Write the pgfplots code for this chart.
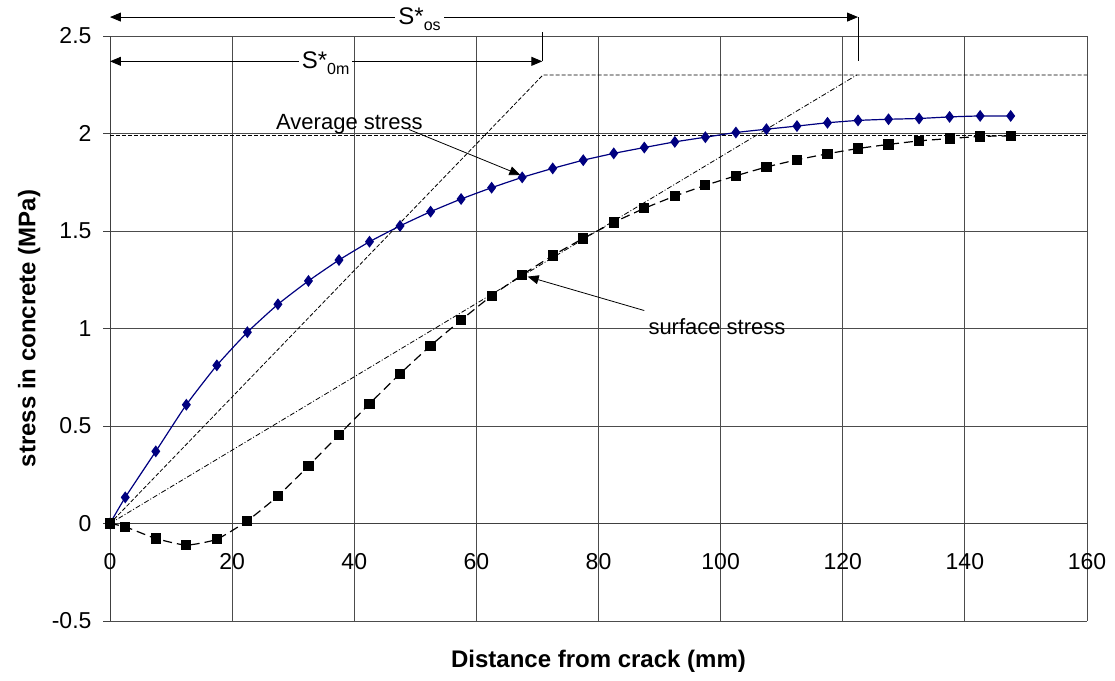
\documentclass[border=0pt]{standalone}
\usepackage{pgfplots}
\pgfplotsset{compat=1.18}
\usepackage{fontspec}
\setmainfont{Liberation Sans}
\usetikzlibrary{arrows.meta,calc}

\pgfplotstableread{
x     avg    surf
0     0      0
2.5   0.134  -0.017
7.5   0.370  -0.077
12.5  0.609  -0.111
17.5  0.811  -0.081
22.5  0.981  0.014
27.5  1.124  0.141
32.5  1.244  0.295
37.5  1.351  0.455
42.5  1.445  0.614
47.5  1.526  0.768
52.5  1.599  0.912
57.5  1.664  1.043
62.5  1.722  1.168
67.5  1.775  1.275
72.5  1.821  1.374
77.5  1.863  1.462
82.5  1.898  1.544
87.5  1.928  1.616
92.5  1.957  1.679
97.5  1.981  1.734
102.5 2.005  1.783
107.5 2.022  1.828
112.5 2.038  1.865
117.5 2.055  1.896
122.5 2.067  1.923
127.5 2.073  1.944
132.5 2.077  1.962
137.5 2.085  1.974
142.5 2.090  1.985
147.5 2.090  1.988
}\stress

\begin{document}
\begin{tikzpicture}
\begin{axis}[
    width=977pt, height=585pt, scale only axis,
    xmin=0, xmax=160, ymin=-0.5, ymax=2.5,
    axis x line=middle, axis y line=left,
    hide obscured x ticks=false, hide obscured y ticks=false,
    axis line style={-, black!75, line width=0.9pt},
    xtick={0,20,...,160}, xticklabels={0,20,40,60,80,100,120,140,160},
    ytick={-0.5,0,0.5,1,1.5,2,2.5},
    yticklabels={-0.5,0,0.5,1,1.5,2,2.5},
    grid=major, grid style={black!70, line width=0.9pt},
    tick align=outside, major tick length=7pt,
    tick style={black!75, line width=0.9pt},
    ticklabel style={font=\fontsize{23}{25}\selectfont},
    xticklabel style={yshift=-19pt},
    yticklabel style={xshift=-8pt},
    xlabel={\bfseries Distance from crack (mm)},
    ylabel={\bfseries stress in concrete (MPa)},
    label style={font=\fontsize{24}{26}\selectfont},
    xlabel style={at={(rel axis cs:0.5,0)}, anchor=north, yshift=-26pt},
    ylabel style={at={(rel axis cs:0,0.5)}, anchor=south, yshift=66pt},
    clip=false,
]
\coordinate (BL) at (rel axis cs:0,0);
\coordinate (TR) at (rel axis cs:1,1);

% guide lines
\draw[black, line width=0.8pt, dash pattern=on 4pt off 2pt] (axis cs:0,0) -- (axis cs:70.9,2.3) -- (axis cs:160,2.3);
\draw[black, line width=0.8pt, dash pattern=on 5pt off 2pt on 1pt off 2pt] (axis cs:0,0) -- (axis cs:122.3,2.3);
\draw[black, line width=0.8pt, dash pattern=on 4pt off 2pt] (axis cs:0,1.99) -- (axis cs:160,1.99);

\addplot[color={rgb,255:red,0;green,0;blue,128}, line width=1.2pt, smooth, tension=0.3,
    mark=diamond*, mark size=5pt, mark options={solid}] table[x=x, y=avg] {\stress};
\addplot[black, line width=1.2pt, dash pattern=on 9pt off 5pt, smooth, tension=0.3,
    mark=square*, mark size=4.5pt, mark options={solid}] table[x=x, y=surf] {\stress};

% S* arrows
\draw[line width=0.9pt, {Triangle[length=11pt,width=9pt]}-{Triangle[length=11pt,width=9pt]}] (axis cs:0,2.597) -- (axis cs:122.5,2.597);
\draw[line width=0.9pt] (axis cs:122.5,2.597) -- (axis cs:122.5,2.37);
\node[fill=white, inner sep=3pt, font=\fontsize{24}{26}\selectfont] at (axis cs:50.7,2.585) {S*\raisebox{-0.45ex}{\fontsize{16}{17}\selectfont os}};
\draw[line width=0.9pt, {Triangle[length=11pt,width=9pt]}-{Triangle[length=11pt,width=9pt]}] (axis cs:0,2.37) -- (axis cs:70.8,2.37);
\draw[line width=0.9pt] (axis cs:70.8,2.52) -- (axis cs:70.8,2.37);
\node[fill=white, inner sep=3pt, font=\fontsize{24}{26}\selectfont] at (axis cs:35.3,2.36) {S*\raisebox{-0.45ex}{\fontsize{16}{17}\selectfont 0m}};

% callouts
\node[anchor=base, font=\fontsize{22}{24}\selectfont] at (axis cs:39.2,2.019) {Average stress};
\draw[line width=0.8pt, -{Triangle[length=11pt,width=9pt]}] (axis cs:49,2.02) -- (axis cs:67.2,1.787);
\node[font=\fontsize{22}{24}\selectfont] at (axis cs:99.4,1.01) {surface stress};
\draw[line width=0.8pt, -{Triangle[length=11pt,width=9pt]}] (axis cs:87.5,1.092) -- (axis cs:68.4,1.266);
\end{axis}
\path ($(BL)+(-110pt,-60pt)$) rectangle ($(TR)+(28pt,36pt)$);
\end{tikzpicture}
\end{document}
